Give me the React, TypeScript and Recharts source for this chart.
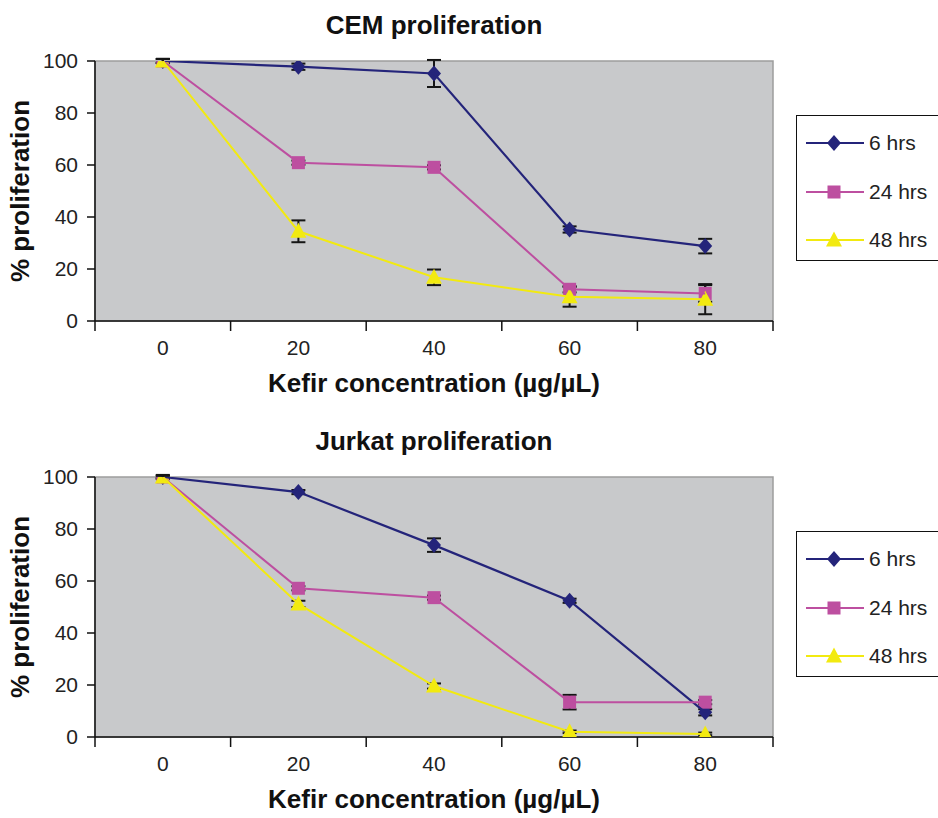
import { ErrorBar, Line, LineChart, ReferenceArea, XAxis, YAxis } from 'recharts';

const CONCENTRATIONS = [0, 20, 40, 60, 80];
const X_BOUNDS = [-10, 10, 30, 50, 70, 90];
const Y_TICKS = [0, 20, 40, 60, 80, 100];

const CEM_6H = [100, 97.8, 95.2, 35.2, 28.8];
const CEM_6H_ERR = [0.8, 1.2, 5.2, 1.2, 2.8];
const CEM_24H = [100, 60.9, 59.1, 12.2, 10.6];
const CEM_24H_ERR = [0.8, 0.8, 0.8, 1.2, 3.2];
const CEM_48H = [100, 34.5, 16.8, 9.3, 8.4];
const CEM_48H_ERR = [0.8, 4.2, 3, 3.8, 5.8];

const JURKAT_6H = [100, 94.2, 73.8, 52.4, 9.5];
const JURKAT_6H_ERR = [0.8, 0.8, 2.6, 0.8, 1.2];
const JURKAT_24H = [100, 57.2, 53.6, 13.4, 13.4];
const JURKAT_24H_ERR = [0.5, 0.8, 0.8, 2.8, 0.8];
const JURKAT_48H = [100, 51.2, 19.6, 2, 1.2];
const JURKAT_48H_ERR = [0.5, 1.2, 1, 0.5, 0.5];

const FONT = '"Liberation Sans", Arial, sans-serif';
const NAVY = '#24247a';
const PINK = '#bd4fa0';
const YELLOW = '#f2ea10';

type Shape = 'diamond' | 'square' | 'triangle';

const SERIES: Array<{ key: string; err: string; name: string; color: string; shape: Shape; width: number }> = [
    { key: 'h6', err: 'e6', name: '6 hrs', color: NAVY, shape: 'diamond', width: 2.2 },
    { key: 'h24', err: 'e24', name: '24 hrs', color: PINK, shape: 'square', width: 2 },
    { key: 'h48', err: 'e48', name: '48 hrs', color: YELLOW, shape: 'triangle', width: 2 },
];

const buildRows = (a: number[], ae: number[], b: number[], be: number[], c: number[], ce: number[]) =>
    CONCENTRATIONS.map((x, i) => ({ x, h6: a[i], e6: ae[i], h24: b[i], e24: be[i], h48: c[i], e48: ce[i] }));

const CEM_ROWS = buildRows(CEM_6H, CEM_6H_ERR, CEM_24H, CEM_24H_ERR, CEM_48H, CEM_48H_ERR);
const JURKAT_ROWS = buildRows(JURKAT_6H, JURKAT_6H_ERR, JURKAT_24H, JURKAT_24H_ERR, JURKAT_48H, JURKAT_48H_ERR);

function Marker({ cx, cy, shape, color }: { cx: number; cy: number; shape: Shape; color: string }) {
    if (shape === 'diamond') {
        return <polygon points={`${cx},${cy - 8} ${cx + 7},${cy} ${cx},${cy + 8} ${cx - 7},${cy}`} fill={color} />;
    }
    if (shape === 'square') {
        return <rect x={cx - 6.5} y={cy - 6.5} width={13} height={13} fill={color} />;
    }
    return <polygon points={`${cx},${cy - 8.5} ${cx + 8},${cy + 6.5} ${cx - 8},${cy + 6.5}`} fill={color} />;
}

function XTick(props: any) {
    const { x, y, payload } = props;
    const v = payload.value as number;
    if (X_BOUNDS.includes(v)) {
        return <line x1={x} x2={x} y1={y} y2={y + 10} stroke="#111" strokeWidth={1.5} />;
    }
    return (
        <text x={x} y={y + 34} textAnchor="middle" fontSize={21} fill="#222" fontFamily={FONT}>
            {v}
        </text>
    );
}

function LegendBox() {
    return (
        <div
            style={{
                position: 'absolute',
                left: 796,
                top: 115,
                width: 150,
                height: 146,
                border: '1px solid #111',
                boxSizing: 'border-box',
                background: '#fff',
            }}
        >
            {SERIES.map((s, i) => (
                <div key={s.key} style={{ position: 'absolute', left: 9, top: 14 + i * 48.5, height: 26, display: 'flex', alignItems: 'center' }}>
                    <svg width={58} height={26}>
                        <line x1={0} x2={58} y1={13} y2={13} stroke={s.color} strokeWidth={2} />
                        <Marker cx={28} cy={13} shape={s.shape} color={s.color} />
                    </svg>
                    <span style={{ marginLeft: 5, fontSize: 21, fontFamily: FONT, color: '#222' }}>{s.name}</span>
                </div>
            ))}
        </div>
    );
}

function Panel({ title, rows, top }: { title: string; rows: ReturnType<typeof buildRows>; top: number }) {
    return (
        <div style={{ position: 'absolute', left: 0, top, width: 938, height: 416 }}>
            <div
                style={{
                    position: 'absolute',
                    left: 95,
                    width: 678,
                    top: 12,
                    lineHeight: '26px',
                    fontSize: 26,
                    fontWeight: 'bold',
                    fontFamily: FONT,
                    textAlign: 'center',
                    color: '#111',
                }}
            >
                {title}
            </div>
            <LineChart width={938} height={416} data={rows} margin={{ top: 61, right: 165, bottom: 0, left: 0 }}>
                <ReferenceArea x1={-10} x2={90} y1={0} y2={100} fill="#c8c9cb" fillOpacity={1} stroke="#9d9d9d" strokeWidth={1.5} />
                <XAxis
                    dataKey="x"
                    type="number"
                    domain={[-10, 90]}
                    ticks={[-10, 0, 10, 20, 30, 40, 50, 60, 70, 80, 90]}
                    interval={0}
                    height={95}
                    tickSize={0}
                    tickMargin={0}
                    tickLine={false}
                    tick={<XTick />}
                    axisLine={{ stroke: '#111', strokeWidth: 1.5 }}
                    label={{
                        value: 'Kefir concentration (µg/µL)',
                        position: 'insideBottom',
                        offset: 24,
                        style: { fontSize: 26, fontWeight: 'bold', fontFamily: FONT, fill: '#111' },
                    }}
                />
                <YAxis
                    type="number"
                    domain={[0, 100]}
                    ticks={Y_TICKS}
                    interval={0}
                    width={95}
                    tickSize={8}
                    tickMargin={9}
                    allowDataOverflow
                    axisLine={{ stroke: '#111', strokeWidth: 1.5 }}
                    tickLine={{ stroke: '#111', strokeWidth: 1.5 }}
                    tick={{ fontSize: 21, fill: '#222', fontFamily: FONT }}
                    label={{
                        value: '% proliferation',
                        angle: -90,
                        position: 'insideLeft',
                        offset: 20,
                        style: { textAnchor: 'middle', fontSize: 26, fontWeight: 'bold', fontFamily: FONT, fill: '#111' },
                    }}
                />
                {/* error bars first, so the markers sit on top of them */}
                {SERIES.map((s) => (
                    <Line
                        key={`${s.key}-err`}
                        dataKey={s.key}
                        stroke="none"
                        dot={false}
                        activeDot={false}
                        legendType="none"
                        isAnimationActive={false}
                    >
                        <ErrorBar dataKey={s.err} direction="y" width={7} stroke="#151515" strokeWidth={2} />
                    </Line>
                ))}
                {SERIES.map((s) => (
                    <Line
                        key={s.key}
                        dataKey={s.key}
                        name={s.name}
                        stroke={s.color}
                        strokeWidth={s.width}
                        isAnimationActive={false}
                        zIndex={650}
                        dot={(p: any) => <Marker key={`${s.key}-${p.index}`} cx={p.cx} cy={p.cy} shape={s.shape} color={s.color} />}
                        activeDot={false}
                    />
                ))}
            </LineChart>
            <LegendBox />
        </div>
    );
}

export default function App() {
    return (
        <div style={{ position: 'absolute', left: 0, top: 0, width: 938, height: 818, background: '#fff', overflow: 'hidden' }}>
            <Panel title="CEM proliferation" rows={CEM_ROWS} top={0} />
            <Panel title="Jurkat proliferation" rows={JURKAT_ROWS} top={416} />
        </div>
    );
}
